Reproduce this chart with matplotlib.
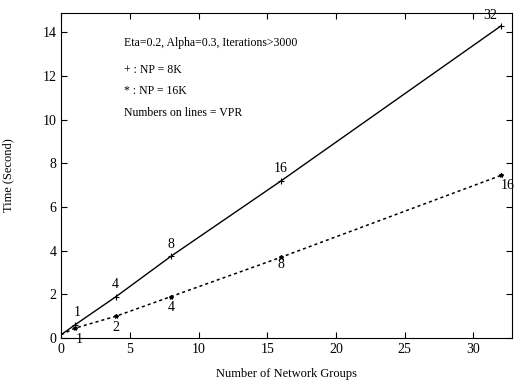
import matplotlib
matplotlib.use("Agg")
import matplotlib.pyplot as plt

plt.rcParams['font.family'] = ['Liberation Serif', 'DejaVu Serif']

groups = [0, 1, 4, 8, 16, 32]
time_8k = [0.15, 0.6, 1.9, 3.75, 7.2, 14.3]
time_16k = [0.15, 0.45, 1.0, 1.9, 3.7, 7.45]
vpr_8k = ["", "1", "4", "8", "16", "32"]
vpr_16k = ["", "1", "2", "4", "8", "16"]

fig = plt.figure(figsize=(5.14, 3.83), dpi=100)
ax = fig.add_axes([0.119, 0.1175, 0.877, 0.849])

ax.plot(groups, time_8k, '-', color='black', lw=1.0)
ax.plot(groups[1:], time_8k[1:], '+', color='black', ms=4, mew=0.8)
ax.plot(groups, time_16k, '--', color='black', lw=1.1, dashes=(2, 2))
ax.plot(groups[1:], time_16k[1:], '*', color='black', ms=3)

offs8 = [(0, 0), (0.2, 0.25), (-0.1, 0.25), (0, 0.25), (0, 0.25), (-0.8, 0.2)]
for x, y, t, o in zip(groups, time_8k, vpr_8k, offs8):
    if t:
        ax.text(x + o[0], y + o[1], t, fontsize=10, ha='center', va='bottom')
offs16 = [(0, 0), (0.3, -0.2), (0, -0.2), (0, -0.2), (0, -0.05), (0.5, -0.15)]
for x, y, t, o in zip(groups, time_16k, vpr_16k, offs16):
    if t:
        ax.text(x + o[0], y + o[1], t, fontsize=10, ha='center', va='top')

ax.text(4.6, 13.5, "Eta=0.2, Alpha=0.3, Iterations>3000", fontsize=8.5, va='center')
ax.text(4.6, 12.3, "+ : NP = 8K", fontsize=8.5, va='center')
ax.text(4.6, 11.3, "* : NP = 16K", fontsize=8.5, va='center')
ax.text(4.6, 10.3, "Numbers on lines = VPR", fontsize=8.5, va='center')

ax.set_xlim(0, 32.8)
ax.set_ylim(0, 14.9)
ax.set_xticks([0, 5, 10, 15, 20, 25, 30])
ax.set_yticks([0, 2, 4, 6, 8, 10, 12, 14])
ax.tick_params(direction='in', top=True, right=True, labelsize=10, length=4)
ax.set_xlabel("Number of Network Groups", fontsize=9, labelpad=9)
ax.set_ylabel("Time (Second)", fontsize=9, labelpad=20)

fig.savefig("out.png", dpi=100)
